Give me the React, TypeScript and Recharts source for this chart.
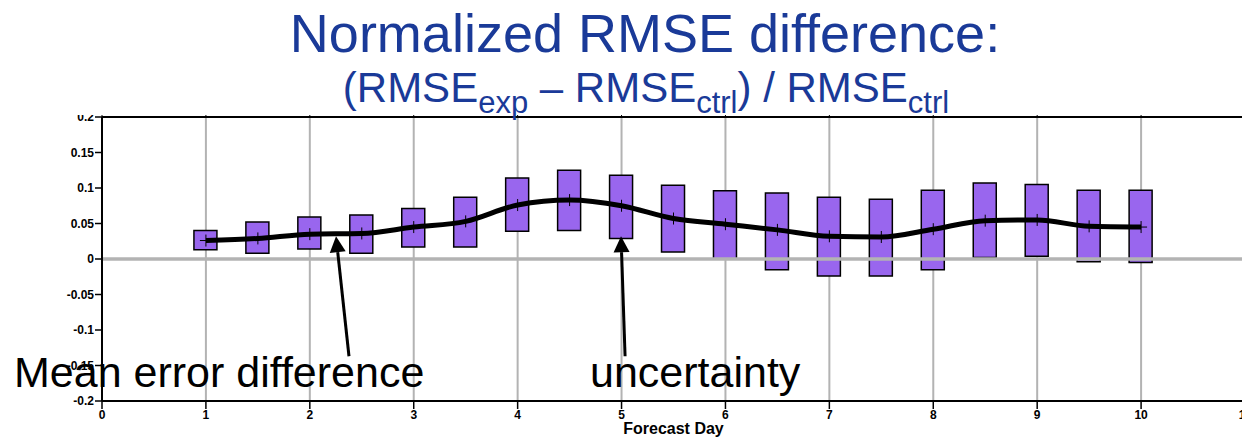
import React from 'react';
import {
  Bar,
  CartesianGrid,
  ComposedChart,
  Line,
  ReferenceLine,
  XAxis,
  YAxis,
} from 'recharts';

// forecast day (half-day steps)
const days = [1, 1.5, 2, 2.5, 3, 3.5, 4, 4.5, 5, 5.5, 6, 6.5, 7, 7.5, 8, 8.5, 9, 9.5, 10];
// uncertainty box: lower / upper edge
const lows = [0.013, 0.008, 0.014, 0.008, 0.017, 0.017, 0.039, 0.04, 0.029, 0.01, 0.0, -0.015, -0.024, -0.024, -0.015, 0.002, 0.004, -0.004, -0.005];
const highs = [0.04, 0.052, 0.059, 0.062, 0.071, 0.087, 0.114, 0.125, 0.118, 0.104, 0.096, 0.093, 0.087, 0.084, 0.097, 0.107, 0.105, 0.097, 0.097];
// mean error difference
const means = [0.026, 0.029, 0.035, 0.036, 0.045, 0.053, 0.076, 0.083, 0.075, 0.057, 0.049, 0.041, 0.032, 0.031, 0.042, 0.054, 0.055, 0.046, 0.045];

const xTicks = [0, 1, 2, 3, 4, 5, 6, 7, 8, 9, 10, 11];
const yTicks = [-0.2, -0.15, -0.1, -0.05, 0, 0.05, 0.1, 0.15, 0.2];

// annotation arrows in data units: [tail, tip]
const arrowMean = [{ x: 2.377, y: -0.137 }, { x: 2.252, y: 0.032 }];
const arrowSpread = [{ x: 5.034, y: -0.137 }, { x: 4.995, y: 0.032 }];

const data = days.map((d, i) => ({ day: d, range: [lows[i], highs[i]], mean: means[i] }));

const FONT = '"Liberation Sans", Arial, Helvetica, sans-serif';
const TITLE_BLUE = '#1a3a98';

const tickStyle = { fontSize: 12, fontWeight: 'bold', fill: '#000', fontFamily: FONT };

function Cross(props: any) {
  const { cx, cy, index } = props;
  if (cx == null || cy == null) return <g key={index} />;
  return (
    <g key={index}>
      <line x1={cx - 6} x2={cx + 6} y1={cy} y2={cy} stroke="#000" strokeWidth={1} />
      <line x1={cx} x2={cx} y1={cy - 6} y2={cy + 6} stroke="#000" strokeWidth={1} />
    </g>
  );
}

function Arrow(props: any) {
  const { x1, y1, x2, y2 } = props;
  const ang = Math.atan2(y2 - y1, x2 - x1);
  const len = 16;
  const half = 8;
  const bx = x2 - len * Math.cos(ang);
  const by = y2 - len * Math.sin(ang);
  const px = -Math.sin(ang) * half;
  const py = Math.cos(ang) * half;
  return (
    <g>
      <line x1={x1} y1={y1} x2={bx} y2={by} stroke="#000" strokeWidth={3} />
      <polygon points={`${x2},${y2} ${bx + px},${by + py} ${bx - px},${by - py}`} fill="#000" />
    </g>
  );
}

const fmtY = (v: number) => String(Number(v.toFixed(2)));

export default function App() {
  return (
    <div
      style={{
        position: 'absolute',
        left: 0,
        top: 0,
        width: 1242,
        height: 438,
        overflow: 'hidden',
        background: '#fff',
        fontFamily: FONT,
      }}
    >
      <ComposedChart
        width={1265}
        height={438}
        data={data}
        margin={{ top: 116, right: 20, bottom: 0, left: 0 }}
      >
        <CartesianGrid horizontal={false} stroke="#b3b3b3" strokeWidth={2} />
        <ReferenceLine y={0} stroke="#b3b3b3" strokeWidth={3.5} />
        <XAxis
          xAxisId="top"
          orientation="top"
          type="number"
          dataKey="day"
          domain={[0, 11]}
          ticks={xTicks}
          height={1}
          tickSize={4}
          tickFormatter={() => ''}
          axisLine={{ stroke: '#000', strokeWidth: 2 }}
          tickLine={{ stroke: '#000', strokeWidth: 1 }}
        />
        <XAxis
          type="number"
          dataKey="day"
          domain={[0, 11]}
          ticks={xTicks}
          height={37}
          tickSize={8}
          tickMargin={1}
          tick={tickStyle}
          axisLine={{ stroke: '#000', strokeWidth: 2 }}
          tickLine={{ stroke: '#000', strokeWidth: 1.5 }}
          label={{
            value: 'Forecast Day',
            position: 'insideBottom',
            offset: 4,
            style: { fontSize: 16, fontWeight: 'bold', fill: '#000', fontFamily: FONT },
          }}
        />
        <YAxis
          type="number"
          domain={[-0.2, 0.2]}
          ticks={yTicks}
          width={102}
          allowDataOverflow
          tickSize={7}
          tickMargin={1}
          tick={tickStyle}
          tickFormatter={fmtY}
          axisLine={{ stroke: '#000', strokeWidth: 2 }}
          tickLine={{ stroke: '#000', strokeWidth: 1.5 }}
        />
        <Bar
          dataKey="range"
          barSize={23}
          fill="#9966ee"
          stroke="#000"
          strokeWidth={1.5}
          isAnimationActive={false}
        />
        <Line
          type="monotone"
          dataKey="mean"
          stroke="#000"
          strokeWidth={5}
          dot={Cross}
          activeDot={false}
          isAnimationActive={false}
        />
        <ReferenceLine segment={arrowMean} ifOverflow="visible" shape={Arrow} />
        <ReferenceLine segment={arrowSpread} ifOverflow="visible" shape={Arrow} />
      </ComposedChart>

      <div
        style={{
          position: 'absolute',
          left: 0,
          top: 0,
          width: 1242,
          height: 115,
          background: '#fff',
          color: TITLE_BLUE,
        }}
      >
        <div
          style={{
            position: 'absolute',
            left: 645,
            top: 6,
            transform: 'translateX(-50%)',
            whiteSpace: 'nowrap',
            fontSize: 54,
            lineHeight: '54px',
          }}
        >
          Normalized RMSE difference:
        </div>
        <div
          style={{
            position: 'absolute',
            left: 646,
            top: 67,
            transform: 'translateX(-50%)',
            whiteSpace: 'nowrap',
            fontSize: 42,
            lineHeight: '42px',
          }}
        >
          (RMSE
          <span style={{ fontSize: 31, verticalAlign: '-11px', lineHeight: 1 }}>exp</span>
          {' – RMSE'}
          <span style={{ fontSize: 31, verticalAlign: '-11px', lineHeight: 1 }}>ctrl</span>
          {') / RMSE'}
          <span style={{ fontSize: 31, verticalAlign: '-11px', lineHeight: 1 }}>ctrl</span>
        </div>
      </div>

      <div
        style={{
          position: 'absolute',
          left: 14,
          top: 351,
          fontSize: 43,
          lineHeight: '43px',
          whiteSpace: 'nowrap',
          color: '#000',
        }}
      >
        Mean error difference
      </div>
      <div
        style={{
          position: 'absolute',
          left: 590,
          top: 351,
          fontSize: 43,
          lineHeight: '43px',
          whiteSpace: 'nowrap',
          color: '#000',
        }}
      >
        uncertainty
      </div>
    </div>
  );
}
